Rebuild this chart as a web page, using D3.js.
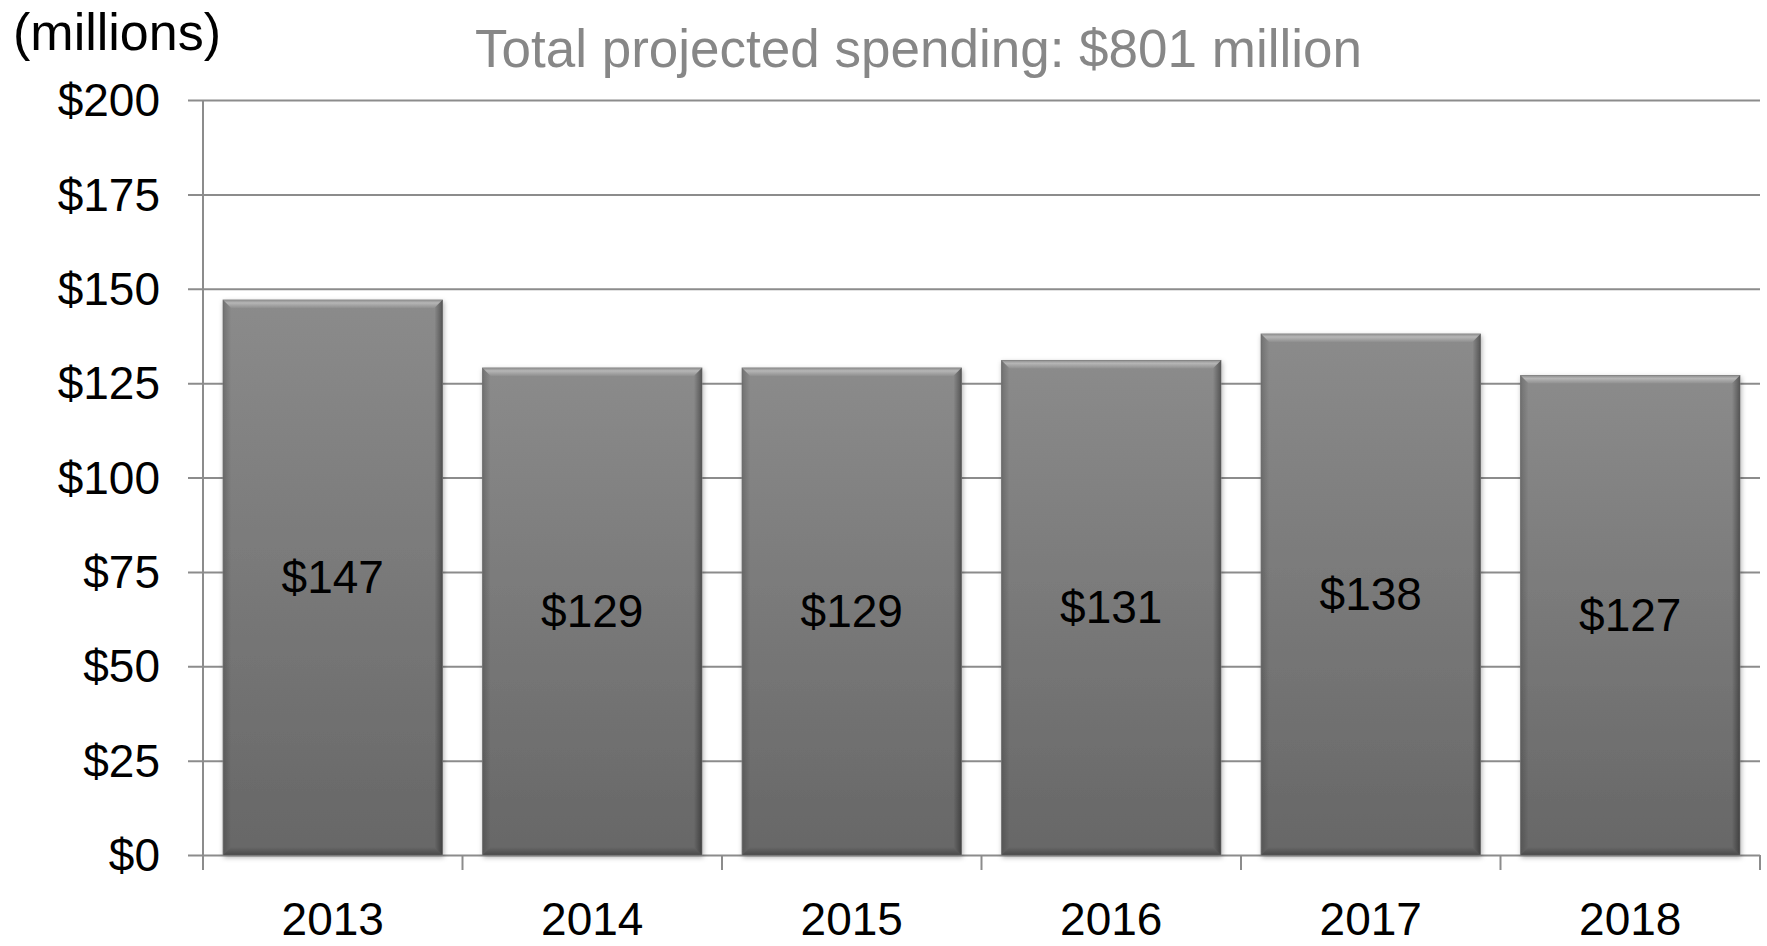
<!DOCTYPE html>
<html>
<head>
<meta charset="utf-8">
<script src="https://cdn.jsdelivr.net/npm/d3@7"></script>
<style>
  html, body { margin: 0; padding: 0; background: #ffffff; }
  svg { display: block; font-family: "Liberation Sans", Arial, sans-serif; }
</style>
</head>
<body>
<svg id="chart" width="1767" height="946"></svg>
<script>
// Projected spending per year, in millions of dollars
const years = ["2013", "2014", "2015", "2016", "2017", "2018"];
const spending = [147, 129, 129, 131, 138, 127];
const yTicks = [0, 25, 50, 75, 100, 125, 150, 175, 200];
const titleText = "Total projected spending: $801 million";
const unitText = "(millions)";

const svg = d3.select("#chart");
const W = 1767, H = 946;
const margin = { left: 203, right: 7, top: 100, bottom: 91 };
const plotW = W - margin.left - margin.right;
const plotH = H - margin.top - margin.bottom;

const x = d3.scaleBand()
  .domain(years)
  .range([margin.left, margin.left + plotW])
  .paddingInner(0.155)
  .paddingOuter(0.0775);

const y = d3.scaleLinear()
  .domain([0, 200])
  .range([margin.top + plotH, margin.top]);

const gridColor = "#8c8c8c";

// Gradient and bevel definitions for the bars
const defs = svg.append("defs");
const body = defs.append("linearGradient").attr("id", "barBody")
  .attr("x1", 0).attr("y1", 0).attr("x2", 0).attr("y2", 1);
body.append("stop").attr("offset", "0%").attr("stop-color", "#8b8b8b");
body.append("stop").attr("offset", "100%").attr("stop-color", "#676767");

const topBevel = defs.append("linearGradient").attr("id", "bevelTop")
  .attr("x1", 0).attr("y1", 0).attr("x2", 0).attr("y2", 1);
topBevel.append("stop").attr("offset", "0%").attr("stop-color", "#8e8e8e");
topBevel.append("stop").attr("offset", "35%").attr("stop-color", "#b6b6b6");
topBevel.append("stop").attr("offset", "100%").attr("stop-color", "#8f8f8f");

const rightBevel = defs.append("linearGradient").attr("id", "bevelRight")
  .attr("x1", 0).attr("y1", 0).attr("x2", 1).attr("y2", 0);
rightBevel.append("stop").attr("offset", "0%").attr("stop-color", "#000").attr("stop-opacity", 0.0);
rightBevel.append("stop").attr("offset", "100%").attr("stop-color", "#000").attr("stop-opacity", 0.38);

const leftBevel = defs.append("linearGradient").attr("id", "bevelLeft")
  .attr("x1", 0).attr("y1", 0).attr("x2", 1).attr("y2", 0);
leftBevel.append("stop").attr("offset", "0%").attr("stop-color", "#000").attr("stop-opacity", 0.18);
leftBevel.append("stop").attr("offset", "100%").attr("stop-color", "#000").attr("stop-opacity", 0.0);

const bottomBevel = defs.append("linearGradient").attr("id", "bevelBottom")
  .attr("x1", 0).attr("y1", 0).attr("x2", 0).attr("y2", 1);
bottomBevel.append("stop").attr("offset", "0%").attr("stop-color", "#000").attr("stop-opacity", 0.0);
bottomBevel.append("stop").attr("offset", "100%").attr("stop-color", "#000").attr("stop-opacity", 0.3);

const shadow = defs.append("filter").attr("id", "barShadow")
  .attr("x", "-10%").attr("y", "-10%").attr("width", "120%").attr("height", "120%");
shadow.append("feDropShadow").attr("dx", 1).attr("dy", 2).attr("stdDeviation", 2.5)
  .attr("flood-color", "#000").attr("flood-opacity", 0.3);

// Horizontal gridlines with left tick marks
const yAxis = d3.axisLeft(y).tickValues(yTicks)
  .tickSize(-plotW).tickSizeOuter(0).tickPadding(43)
  .tickFormat(d => "$" + d);
const gy = svg.append("g").attr("transform", `translate(${margin.left},0)`).call(yAxis);
gy.select(".domain").remove();
gy.selectAll(".tick line").attr("stroke", gridColor).attr("stroke-width", 2)
  .attr("x1", -15).attr("x2", plotW);
gy.selectAll(".tick text")
  .attr("fill", "#000").attr("font-size", 46)
  .attr("font-family", "'Liberation Sans', Arial, sans-serif")
  .attr("dy", "0.34em");

// Vertical axis line
svg.append("line")
  .attr("x1", margin.left).attr("x2", margin.left)
  .attr("y1", y(200)).attr("y2", y(0) + 15)
  .attr("stroke", gridColor).attr("stroke-width", 2);

// Category separator ticks below the baseline
const step = x.step();
const halfGap = step * x.paddingInner() / 2;
const boundaries = years.map(d => x(d) + x.bandwidth() + halfGap);
svg.append("g").selectAll("line").data(boundaries).join("line")
  .attr("x1", d => d).attr("x2", d => d)
  .attr("y1", y(0)).attr("y2", y(0) + 15)
  .attr("stroke", gridColor).attr("stroke-width", 2);

// Bars
const data = years.map((yr, i) => ({ year: yr, value: spending[i] }));
const bars = svg.append("g").selectAll("g").data(data).join("g");

bars.append("rect")
  .attr("x", d => x(d.year)).attr("y", d => y(d.value))
  .attr("width", x.bandwidth()).attr("height", d => y(0) - y(d.value))
  .attr("fill", "url(#barBody)")
  .attr("stroke", "#7a7a7a").attr("stroke-width", 1)
  .attr("filter", "url(#barShadow)");

const bv = 8;
bars.append("path").attr("fill", "url(#bevelTop)")
  .attr("d", d => {
    const x0 = x(d.year), x1 = x0 + x.bandwidth(), y0 = y(d.value);
    return `M${x0},${y0}L${x1},${y0}L${x1 - bv},${y0 + bv}L${x0 + bv},${y0 + bv}Z`;
  });
bars.append("path").attr("fill", "url(#bevelRight)")
  .attr("d", d => {
    const x1 = x(d.year) + x.bandwidth(), y0 = y(d.value), yb = y(0);
    return `M${x1},${y0}L${x1},${yb}L${x1 - bv},${yb - bv}L${x1 - bv},${y0 + bv}Z`;
  });
bars.append("path").attr("fill", "url(#bevelLeft)")
  .attr("d", d => {
    const x0 = x(d.year), y0 = y(d.value), yb = y(0);
    return `M${x0},${y0}L${x0 + bv},${y0 + bv}L${x0 + bv},${yb - bv}L${x0},${yb}Z`;
  });
bars.append("path").attr("fill", "url(#bevelBottom)")
  .attr("d", d => {
    const x0 = x(d.year), x1 = x0 + x.bandwidth(), yb = y(0);
    return `M${x0},${yb}L${x1},${yb}L${x1 - bv},${yb - bv}L${x0 + bv},${yb - bv}Z`;
  });

// Value labels centred inside each bar
bars.append("text")
  .attr("x", d => x(d.year) + x.bandwidth() / 2)
  .attr("y", d => (y(d.value) + y(0)) / 2)
  .attr("dy", "0.34em")
  .attr("text-anchor", "middle")
  .attr("font-size", 46).attr("fill", "#000")
  .text(d => "$" + d.value);

// Year labels
svg.append("g").selectAll("text").data(years).join("text")
  .attr("x", d => x(d) + x.bandwidth() / 2)
  .attr("y", 935)
  .attr("text-anchor", "middle")
  .attr("font-size", 46).attr("fill", "#000")
  .text(d => d);

// Unit label and title
svg.append("text")
  .attr("x", 13).attr("y", 50)
  .attr("font-size", 52).attr("fill", "#000")
  .text(unitText);

svg.append("text")
  .attr("x", 475).attr("y", 67)
  .attr("font-size", 54).attr("fill", "#878787")
  .attr("textLength", 887).attr("lengthAdjust", "spacingAndGlyphs")
  .text(titleText);
</script>
</body>
</html>
